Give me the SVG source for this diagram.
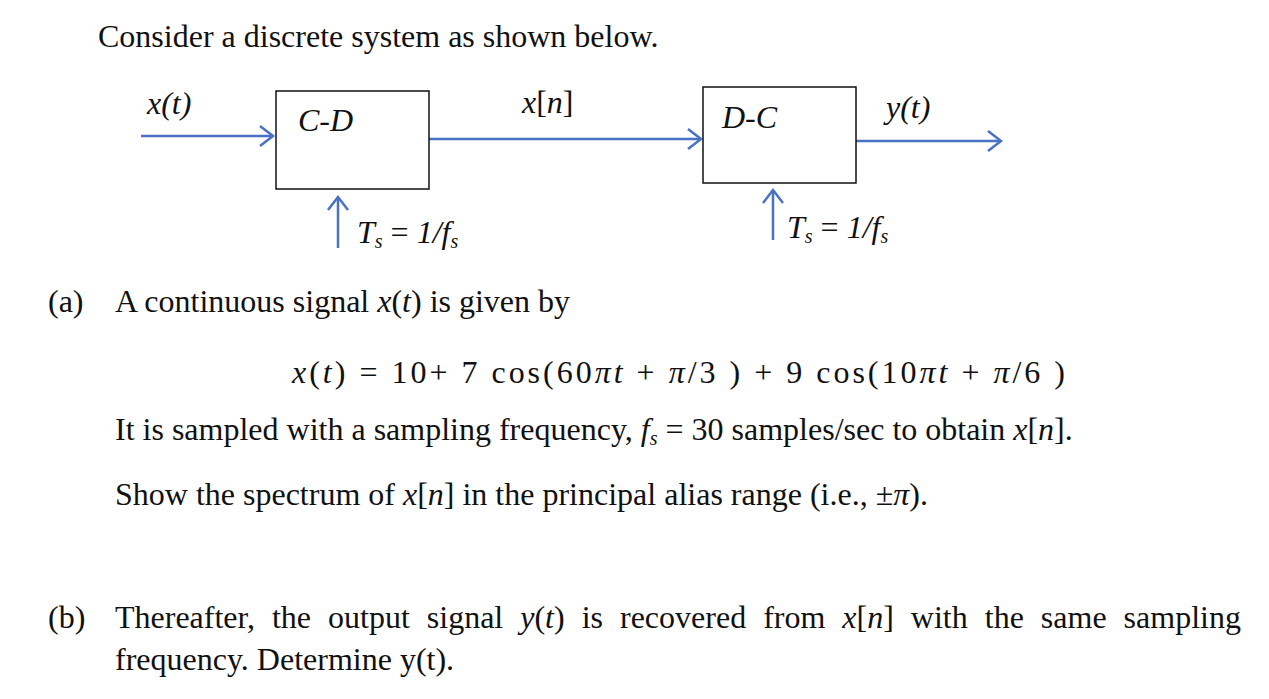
<svg xmlns="http://www.w3.org/2000/svg" width="1269" height="699" viewBox="0 0 1269 699">
<style>
text{font-family:"Liberation Serif",serif;font-size:32px;fill:#111}
.i{font-style:italic}
.box{fill:#fff;stroke:#111;stroke-width:1.5}
.ln{stroke:#4a72c4;stroke-width:2.5;fill:none}
</style>
<defs><marker id="a" markerWidth="20" markerHeight="24" refX="15" refY="12" orient="auto" markerUnits="userSpaceOnUse"><path d="M2,2 L15,12 L2,22" fill="none" stroke="#4a72c4" stroke-width="2.5"/></marker></defs>
<rect width="1269" height="699" fill="#fff"/>
<text x="98" y="47">Consider a discrete system as shown below.</text>
<g id="connectors">
<line class="ln" x1="141" y1="136" x2="273" y2="136" marker-end="url(#a)"/>
<line class="ln" x1="429" y1="139" x2="701" y2="139" marker-end="url(#a)"/>
<line class="ln" x1="856" y1="141" x2="1001" y2="141" marker-end="url(#a)"/>
<line class="ln" x1="338" y1="248" x2="338" y2="197" marker-end="url(#a)"/>
<line class="ln" x1="773" y1="240" x2="773" y2="190" marker-end="url(#a)"/>
</g>
<g id="cd"><rect class="box" x="276" y="91" width="153" height="98"/><text class="i" x="298" y="131" font-size="30">C-D</text></g>
<g id="dc"><rect class="box" x="703" y="87" width="153" height="96"/><text class="i" x="722" y="128" font-size="30">D-C</text></g>
<text class="i" x="147" y="114" font-size="30">x(t)</text>
<text x="522" y="113" font-size="30"><tspan class="i">x</tspan>[<tspan class="i">n</tspan>]</text>
<text class="i" x="886" y="118" font-size="30">y(t)</text>
<text x="357" y="243" font-size="30"><tspan class="i">T<tspan font-size="20" dy="5">s</tspan></tspan><tspan dy="-5"> = </tspan><tspan class="i">1/f<tspan font-size="20" dy="5">s</tspan></tspan></text>
<text x="787" y="238" font-size="30"><tspan class="i">T<tspan font-size="20" dy="5">s</tspan></tspan><tspan dy="-5"> = </tspan><tspan class="i">1/f<tspan font-size="20" dy="5">s</tspan></tspan></text>
<text x="48" y="312">(a)</text>
<text x="115" y="312">A continuous signal <tspan class="i">x</tspan>(<tspan class="i">t</tspan>) is given by</text>
<text x="292" y="383" font-size="34" textLength="773" lengthAdjust="spacing"><tspan class="i">x</tspan>(<tspan class="i">t</tspan>) = 10+ 7 cos(60<tspan class="i">πt</tspan> +  <tspan class="i">π</tspan>/3 ) +  9 cos(10<tspan class="i">πt</tspan> +  <tspan class="i">π</tspan>/6 )</text>
<text x="115" y="440">It is sampled with a sampling frequency, <tspan class="i">f<tspan font-size="20" dy="5">s</tspan></tspan><tspan dy="-5"> = 30 samples/sec to obtain </tspan><tspan class="i">x</tspan>[<tspan class="i">n</tspan>].</text>
<text x="115" y="505">Show the spectrum of <tspan class="i">x</tspan>[<tspan class="i">n</tspan>] in the principal alias range (i.e., ±<tspan class="i">π</tspan>).</text>
<text x="48" y="628">(b)</text>
<text x="115" y="628" word-spacing="9">Thereafter, the output signal <tspan class="i">y</tspan>(<tspan class="i">t</tspan>) is recovered from <tspan class="i">x</tspan>[<tspan class="i">n</tspan>] with the same sampling</text>
<text x="115" y="670">frequency. Determine y(t).</text>
</svg>
